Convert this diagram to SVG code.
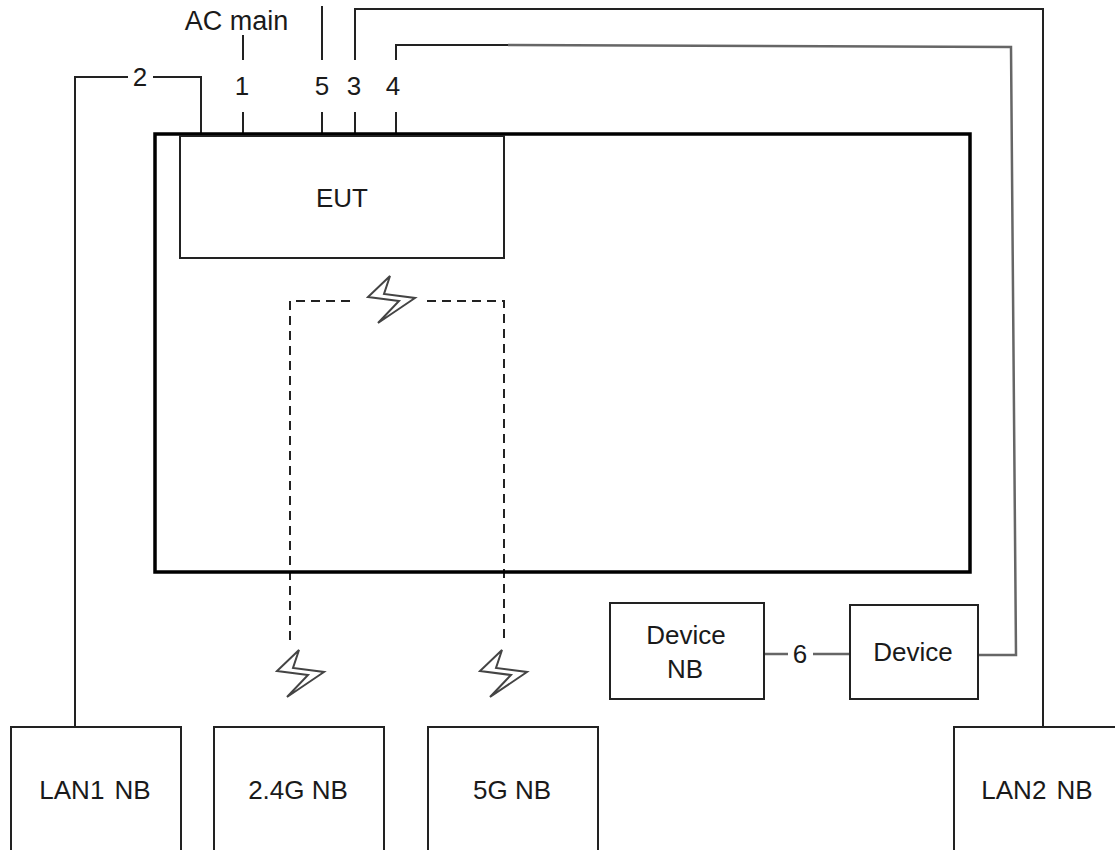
<svg xmlns="http://www.w3.org/2000/svg" xmlns:xlink="http://www.w3.org/1999/xlink" width="1115" height="850" viewBox="0 0 1115 850">
<style>
text{font-family:"Liberation Sans",Arial,sans-serif;font-size:26px;fill:#1a1a1a;text-anchor:middle}
.box{fill:#fff;stroke:#222;stroke-width:2}
.w{fill:none;stroke:#222;stroke-width:2}
.g{fill:none;stroke:#666;stroke-width:2.5}
.d{fill:none;stroke:#222;stroke-width:2;stroke-dasharray:9 6}
.b{fill:#fff;stroke:#444;stroke-width:2}
.ws{word-spacing:3px}
</style>
<defs><path id="bolt" d="M299 650L277 671L308 675L287 697L324 672L293 668Z"/></defs>
<rect width="1115" height="850" fill="#fff"/>
<g id="connectors">
<path class="w" d="M75 727V77H128M153 77H201V134"/>
<path class="w" d="M243 35V60M243 112V134"/>
<path class="w" d="M322 6V60M322 112V134"/>
<path class="w" d="M355 60V9H1043V727M355 112V134"/>
<path class="w" d="M396 60V45H508"/>
<path class="g" d="M508 45L1011 47L1016 655H979"/>
<path class="w" d="M396 112V134"/>
<path class="g" d="M765 654H788M813 654H850"/>
<path class="d" d="M290 640V301H356M427 301H504V640"/>
</g>
<g id="chamber"><rect x="155" y="134" width="815" height="438" fill="none" stroke="#000" stroke-width="3.5"/></g>
<g id="eut"><rect class="box" x="180" y="136" width="324" height="122"/><text x="342" y="207">EUT</text></g>
<g id="bolts"><use xlink:href="#bolt" href="#bolt" class="b" transform="translate(91 -374)"/><use xlink:href="#bolt" href="#bolt" class="b"/><use xlink:href="#bolt" href="#bolt" class="b" transform="translate(203 0)"/></g>
<g id="device-nb"><rect class="box" x="610" y="603" width="154" height="96"/><text x="686" y="644">Device</text><text x="685" y="678">NB</text></g>
<g id="device"><rect class="box" x="850" y="605" width="128" height="94"/><text x="913" y="661">Device</text></g>
<g id="lan1"><rect class="box" x="11" y="727" width="170" height="130"/><text class="ws" x="95" y="799">LAN1 NB</text></g>
<g id="nb24"><rect class="box" x="214" y="727" width="170" height="130"/><text x="298" y="799">2.4G NB</text></g>
<g id="nb5"><rect class="box" x="428" y="727" width="170" height="130"/><text x="512" y="799">5G NB</text></g>
<g id="lan2"><rect class="box" x="954" y="727" width="170" height="130"/><text class="ws" x="1037" y="799">LAN2 NB</text></g>
<g id="labels">
<text x="236.500" y="30" style="font-size:27px">AC main</text>
<text x="242" y="95">1</text><text x="140" y="86">2</text><text x="322" y="95">5</text><text x="354" y="95">3</text><text x="393" y="95">4</text><text x="800" y="663">6</text>
</g>
</svg>
